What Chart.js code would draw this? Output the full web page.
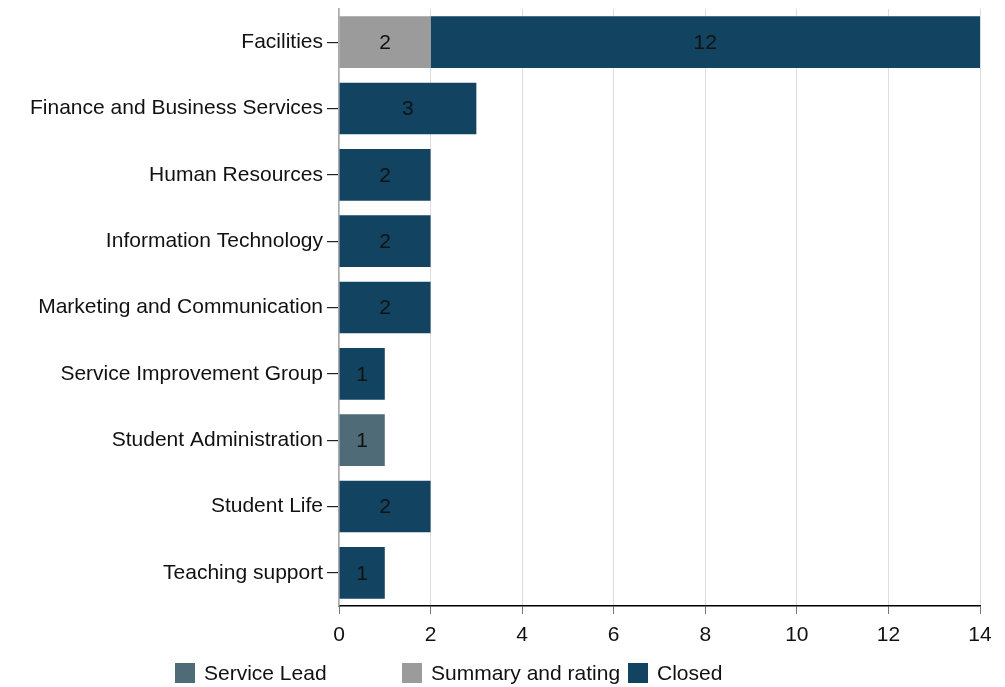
<!DOCTYPE html>
<html lang="en">
<head>
    <meta charset="UTF-8">
    <title>Items by service area</title>
    <script src="https://cdn.jsdelivr.net/npm/chart.js"></script>
    <style>
        html, body { margin: 0; padding: 0; background: #fff; }
        #wrap { width: 1005px; height: 687px; }
    </style>
</head>
<body>
    <div id="wrap"><canvas id="chart"></canvas></div>

    <script>
        const categories = [
            "Facilities",
            "Finance and Business Services",
            "Human Resources",
            "Information Technology",
            "Marketing and Communication",
            "Service Improvement Group",
            "Student Administration",
            "Student Life",
            "Teaching support"
        ];
        const serviceLead = [0, 0, 0, 0, 0, 0, 1, 0, 0];
        const summaryRating = [2, 0, 0, 0, 0, 0, 0, 0, 0];
        const closed = [12, 3, 2, 2, 2, 1, 0, 2, 1];
        const xTicks = [0, 2, 4, 6, 8, 10, 12, 14];

        const FONT = "'Liberation Sans', Arial, sans-serif";
        const SIZE = 21;

        // numbers in the middle of each bar piece
        const barLabels = {
            id: "barLabels",
            afterDatasetsDraw(chart) {
                const ctx = chart.ctx;
                ctx.save();
                ctx.font = SIZE + "px " + FONT;
                ctx.fillStyle = "#111";
                ctx.textAlign = "center";
                ctx.textBaseline = "middle";
                chart.data.datasets.forEach((ds, i) => {
                    chart.getDatasetMeta(i).data.forEach((bar, j) => {
                        const v = ds.data[j];
                        if (!v) return;
                        ctx.fillText(String(v), (bar.x + bar.base) / 2, bar.y + 1);
                    });
                });
                ctx.restore();
            }
        };

        // legend in fixed columns like the original
        const columnLegend = {
            id: "columnLegend",
            afterDraw(chart) {
                const ctx = chart.ctx;
                const cols = [175, 402, 628];
                const y = 673;
                ctx.save();
                ctx.font = SIZE + "px " + FONT;
                ctx.textBaseline = "middle";
                ctx.textAlign = "left";
                chart.data.datasets.forEach((ds, i) => {
                    const x = cols[i];
                    ctx.fillStyle = ds.backgroundColor;
                    ctx.fillRect(x, y - 10, 20, 20);
                    ctx.fillStyle = "#111";
                    ctx.fillText(ds.label, x + 29, y + 1);
                });
                ctx.restore();
            }
        };

        new Chart(document.getElementById("chart"), {
            type: "bar",
            data: {
                labels: categories,
                datasets: [
                    { label: "Service Lead", data: serviceLead, backgroundColor: "#4e6b77" },
                    { label: "Summary and rating", data: summaryRating, backgroundColor: "#9b9b9b" },
                    { label: "Closed", data: closed, backgroundColor: "#124461" }
                ]
            },
            options: {
                indexAxis: "y",
                responsive: true,
                maintainAspectRatio: false,
                animation: false,
                categoryPercentage: 1,
                barPercentage: 0.78,
                layout: { padding: { top: 9, right: 25, bottom: 0, left: 0 } },
                plugins: {
                    legend: { display: false },
                    tooltip: { enabled: false }
                },
                scales: {
                    x: {
                        stacked: true,
                        min: 0,
                        max: 14,
                        afterBuildTicks: (scale) => { scale.ticks = xTicks.map(v => ({ value: v })); },
                        afterFit: (scale) => { scale.height = 81; },
                        ticks: { color: "#111", font: { family: FONT, size: SIZE }, padding: 9 },
                        grid: { color: "#dddddd", lineWidth: 1, tickLength: 8, tickColor: "#777" },
                        border: { color: "#000", width: 1.5 }
                    },
                    y: {
                        stacked: true,
                        afterFit: (scale) => {
                            scale.width = 339;
                            scale.paddingTop = 0;
                            scale.paddingBottom = 0;
                        },
                        ticks: { color: "#111", font: { family: FONT, size: SIZE }, padding: 4 },
                        grid: { offset: false, drawOnChartArea: false, tickLength: 12, tickColor: "#222", lineWidth: 1.2 },
                        border: { color: "#aaa", width: 1.5 }
                    }
                }
            },
            plugins: [barLabels, columnLegend]
        });
    </script>
</body>
</html>
